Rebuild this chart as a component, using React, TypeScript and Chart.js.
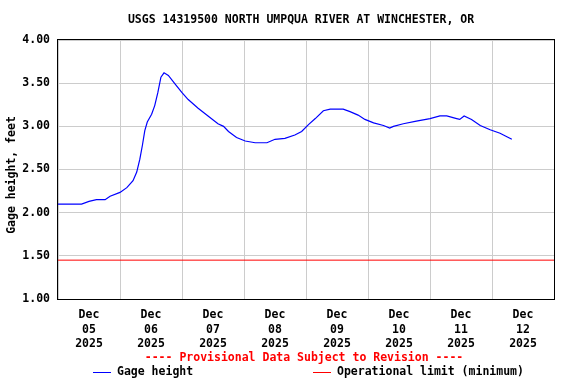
import React, { useEffect, useRef } from "react";
import { Chart, registerables } from "chart.js";

Chart.register(...registerables);

const titleText = "USGS 14319500 NORTH UMPQUA RIVER AT WINCHESTER, OR";
const yAxisTitle = "Gage height, feet";
const provisionalText = "---- Provisional Data Subject to Revision ----";
const seriesName = "Gage height";
const limitName = "Operational limit (minimum)";

const monthLabel = "Dec";
const yearLabel = "2025";
const dayLabels = ["05", "06", "07", "08", "09", "10", "11", "12"];

// time in days since Dec 05 2025 00:00
const gageTimes = [
  0, 0.2, 0.38, 0.5, 0.62, 0.76, 0.84, 1.0, 1.11, 1.21, 1.27, 1.32, 1.36, 1.4, 1.44,
  1.51, 1.56, 1.61, 1.66, 1.71, 1.78, 1.89, 2.0, 2.1, 2.26, 2.42, 2.58, 2.67, 2.75,
  2.88, 3.02, 3.18, 3.37, 3.5, 3.66, 3.82, 3.93, 4.04, 4.15, 4.28, 4.39, 4.6, 4.71,
  4.84, 4.95, 5.09, 5.25, 5.35, 5.41, 5.57, 5.78, 6.0, 6.16, 6.27, 6.43, 6.48, 6.55,
  6.67, 6.81, 6.97, 7.13, 7.24, 7.32,
];
const gageValues = [
  2.1, 2.1, 2.1, 2.13, 2.15, 2.15, 2.19, 2.235, 2.29, 2.37, 2.47, 2.62, 2.775, 2.95, 3.05,
  3.14, 3.24, 3.39, 3.57, 3.62, 3.59, 3.49, 3.39, 3.31, 3.21, 3.12, 3.03, 3.0, 2.94,
  2.87, 2.83, 2.81, 2.81, 2.85, 2.86, 2.9, 2.94, 3.02, 3.09, 3.18, 3.2, 3.2, 3.17,
  3.13, 3.08, 3.04, 3.01, 2.98, 3.0, 3.03, 3.06, 3.09, 3.12, 3.12, 3.09, 3.08, 3.12,
  3.08, 3.01, 2.96, 2.92, 2.88, 2.85,
];
const limitTimes = [0, 8];
const limitValues = [1.45, 1.45];

const FONT = 'bold 11.5px "DejaVu Sans Mono"';

const decorPlugin = {
  id: "decor",
  afterDraw(chart: any) {
    const { ctx, chartArea: a } = chart;
    ctx.save();
    ctx.strokeStyle = "#000";
    ctx.lineWidth = 1;
    ctx.strokeRect(a.left - 0.5, a.top - 0.5, a.right - a.left + 1, a.bottom - a.top + 1);

    ctx.font = FONT;
    ctx.fillStyle = "#000";
    ctx.textAlign = "center";
    ctx.textBaseline = "middle";
    ctx.fillText(titleText, 301, 20);

    ctx.save();
    ctx.translate(12, 175);
    ctx.rotate(-Math.PI / 2);
    ctx.fillText(yAxisTitle, 0, 0);
    ctx.restore();

    ctx.fillStyle = "#ff0000";
    ctx.fillText(provisionalText, 304, 358);

    ctx.textAlign = "left";
    ctx.lineWidth = 1;
    ctx.strokeStyle = "#0000ff";
    ctx.beginPath();
    ctx.moveTo(93, 372.5);
    ctx.lineTo(111, 372.5);
    ctx.stroke();
    ctx.fillStyle = "#000";
    ctx.fillText(seriesName, 117, 372);

    ctx.strokeStyle = "#ff0000";
    ctx.beginPath();
    ctx.moveTo(313, 372.5);
    ctx.lineTo(331, 372.5);
    ctx.stroke();
    ctx.fillText(limitName, 337, 372);
    ctx.restore();
  },
};

export default function App() {
  const ref = useRef<HTMLCanvasElement>(null);
  useEffect(() => {
    document.body.style.margin = "0";
    const chart = new Chart(ref.current as HTMLCanvasElement, {
      type: "line",
      data: {
        datasets: [
          {
            label: seriesName,
            data: gageTimes.map((t, i) => ({ x: t, y: gageValues[i] })),
            borderColor: "#0000ff",
            borderWidth: 1.2,
            pointRadius: 0,
            tension: 0,
            fill: false,
          },
          {
            label: limitName,
            data: limitTimes.map((t, i) => ({ x: t, y: limitValues[i] })),
            borderColor: "#ff0000",
            borderWidth: 1,
            pointRadius: 0,
            tension: 0,
            fill: false,
          },
        ],
      },
      plugins: [decorPlugin],
      options: {
        animation: false,
        responsive: false,
        devicePixelRatio: 1,
        layout: { padding: { top: 40, right: 22, left: 0, bottom: 0 } },
        plugins: {
          legend: { display: false },
          tooltip: { enabled: false },
          title: { display: false },
        },
        scales: {
          x: {
            type: "linear",
            min: 0,
            max: 8,
            afterFit: (s: any) => {
              s.height = 85;
            },
            border: { display: false },
            grid: {
              drawTicks: false,
              color: (c: any) =>
                c.tick && Math.abs(c.tick.value % 1) < 1e-6 ? "#cccccc" : "rgba(0,0,0,0)",
            },
            ticks: {
              stepSize: 0.5,
              autoSkip: false,
              maxRotation: 0,
              padding: 9,
              color: "#000",
              font: { family: "DejaVu Sans Mono", size: 11.5, weight: "bold", lineHeight: 1.25 },
              callback: (v: any) => {
                const n = Number(v);
                if (Math.abs((n % 1) - 0.5) < 1e-6) {
                  const d = dayLabels[Math.floor(n)];
                  return d ? [monthLabel, d, yearLabel] : "";
                }
                return "";
              },
            },
          },
          y: {
            min: 1,
            max: 4,
            afterFit: (s: any) => {
              s.width = 58;
            },
            border: { display: false },
            grid: { drawTicks: false, color: "#cccccc" },
            ticks: {
              stepSize: 0.5,
              padding: 8,
              color: "#000",
              font: { family: "DejaVu Sans Mono", size: 11.5, weight: "bold" },
              callback: (v: any) => Number(v).toFixed(2),
            },
          },
        },
      },
    });
    return () => chart.destroy();
  }, []);
  return (
    <div style={{ width: 576, height: 384, background: "#fff" }}>
      <canvas ref={ref} width={576} height={384} />
    </div>
  );
}
